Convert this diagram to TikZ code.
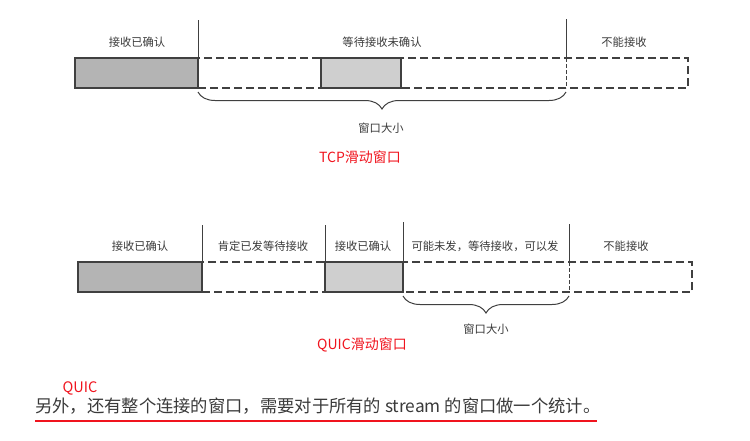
\documentclass[tikz,border=0pt]{standalone}
\usepackage{fontspec}
\setmainfont{Noto Sans CJK SC}
\usepackage{xcolor}
\usepackage{tikz}
\usetikzlibrary{decorations.pathreplacing}
\pgfdeclarelayer{nodelayer}
\pgfdeclarelayer{edgelayer}
\pgfsetlayers{nodelayer,edgelayer,main}
\definecolor{linegray}{HTML}{404040}
\definecolor{textgray}{HTML}{3A3A3A}
\definecolor{darkfill}{HTML}{B4B4B4}
\definecolor{lightfill}{HTML}{CFCFCF}
\definecolor{markred}{HTML}{F0141E}
\tikzset{
  acked/.style={draw=linegray, line width=1.5pt, fill=darkfill, minimum height=30pt, inner sep=0pt, outer sep=0pt},
  sentbox/.style={draw=linegray, line width=1.5pt, fill=lightfill, minimum height=30pt, inner sep=0pt, outer sep=0pt},
  pending/.style={draw=linegray, line width=1.5pt, dash pattern=on 8pt off 4pt, fill=white, minimum height=30pt, inner sep=0pt, outer sep=0pt},
  label/.style={text=textgray, font=\fontsize{11.3}{13}\selectfont, inner sep=0pt},
  title/.style={text=markred, font=\fontsize{14}{16}\selectfont, inner sep=0pt},
  divider/.style={draw=linegray, line width=1pt},
  winbrace/.style={draw=linegray, line width=1pt, decorate, decoration={brace, mirror, amplitude=17pt}},
}

\begin{document}
\begin{tikzpicture}[x=1pt, y=-1pt]
  \useasboundingbox (0, 0) rectangle (750, 440);
  \begin{pgfonlayer}{nodelayer}
    % TCP
    \node [pending, minimum width=490pt] (0) at (443, 73) {};
    \node [acked, minimum width=123pt] (1) at (136.5, 73) {};
    \node [sentbox, minimum width=80pt] (2) at (361, 73) {};
    \node [label] (3) at (137, 42) {接收已确认};
    \node [label] (4) at (382, 42) {等待接收未确认};
    \node [label] (5) at (624, 42) {不能接收};
    \node [label] (6) at (381, 128) {窗口大小};
    \node [title] (7) at (360, 157) {TCP滑动窗口};
    \node [] (8) at (198, 20) {};
    \node [] (9) at (566, 19) {};
    \node [] (10) at (566, 58) {};
    \node [] (11) at (566, 88) {};
    \node [] (12) at (198, 92) {};
    \node [] (13) at (566, 92) {};
    % QUIC
    \node [pending, minimum width=490pt] (14) at (447, 277) {};
    \node [acked, minimum width=124pt] (15) at (140, 277) {};
    \node [sentbox, minimum width=78pt] (16) at (364, 277) {};
    \node [label] (17) at (140, 246) {接收已确认};
    \node [label] (18) at (263, 246) {肯定已发等待接收};
    \node [label] (19) at (363, 246) {接收已确认};
    \node [label] (20) at (485, 246) {可能未发，等待接收，可以发};
    \node [label] (21) at (626, 246) {不能接收};
    \node [label] (22) at (486, 329) {窗口大小};
    \node [title] (23) at (362, 345) {QUIC滑动窗口};
    \node [] (24) at (202, 225) {};
    \node [] (25) at (325, 225) {};
    \node [] (26) at (403, 222) {};
    \node [] (27) at (569, 224) {};
    \node [] (28) at (569, 262) {};
    \node [] (29) at (569, 292) {};
    \node [] (30) at (403, 296) {};
    \node [] (31) at (569, 296) {};
    % note
    \node [title, font=\fontsize{14.5}{16}\selectfont] (32) at (80, 388) {QUIC};
    \node [anchor=west, inner sep=0pt, text=textgray, font=\fontsize{17.3}{20}\selectfont] (33) at (35, 406) {另外，还有整个连接的窗口，需要对于所有的 stream 的窗口做一个统计。};
    \node [] (34) at (35, 421) {};
    \node [] (35) at (597, 421) {};
  \end{pgfonlayer}
  \begin{pgfonlayer}{edgelayer}
    \draw [divider] (8.center) to (1.north east);
    \draw [divider] (9.center) to (10.center);
    \draw [divider, dash pattern=on 4pt off 2pt] (10.center) to (11.center);
    \draw [winbrace] (12.center) to (13.center);
    \draw [divider] (24.center) to (15.north east);
    \draw [divider] (25.center) to (16.north west);
    \draw [divider] (26.center) to (16.south east);
    \draw [divider] (27.center) to (28.center);
    \draw [divider, dash pattern=on 4pt off 2pt] (28.center) to (29.center);
    \draw [winbrace] (30.center) to (31.center);
    \draw [draw=markred, line width=2.2pt] (34.center) to (35.center);
  \end{pgfonlayer}
\end{tikzpicture}
\end{document}
